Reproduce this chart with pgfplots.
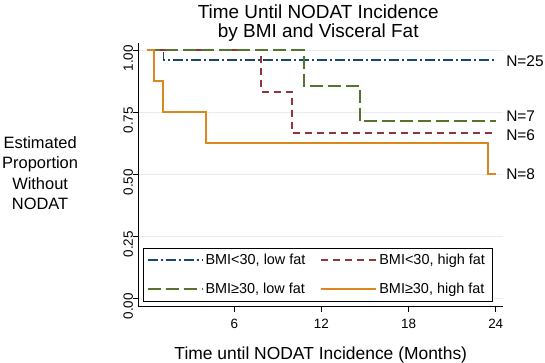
\documentclass[border=0pt]{standalone}
\usepackage{pgfplots}
\pgfplotsset{compat=1.18}
\usepackage{fontspec}
\setmainfont{Liberation Sans}
\definecolor{snavy}{RGB}{26,71,111}
\definecolor{smaroon}{RGB}{144,53,59}
\definecolor{sgreen}{RGB}{85,117,47}
\definecolor{sorange}{RGB}{220,135,30}
\definecolor{sgrid}{RGB}{228,238,240}
\begin{document}
\begin{tikzpicture}
\path[use as bounding box] (0,0) rectangle (545bp,363bp);
\begin{axis}[
  at={(138.3bp,56.3bp)}, anchor=south west,
  scale only axis, width=365bp, height=264bp,
  xmin=-0.61, xmax=24.52, ymin=-0.034, ymax=1.031,
  axis lines=left, axis line style={-, line width=0.9bp, black},
  clip=false,
  xtick={6,12,18,24}, ytick={0,0.25,0.5,0.75,1},
  tick align=outside, major tick length=5bp,
  tick style={black, line width=0.9bp},
  /pgf/number format/assume math mode=true,
  ymajorgrids, grid style={sgrid, line width=0.7bp},
  ticklabel style={font=\fontsize{13.5}{16}\selectfont},
  yticklabel style={rotate=90, anchor=south, inner sep=0pt, xshift=-8bp,
    /pgf/number format/fixed, /pgf/number format/fixed zerofill, /pgf/number format/precision=2},
  xticklabel style={anchor=north, inner sep=0pt, yshift=-7bp},
  title={Time Until NODAT Incidence\\by BMI and Visceral Fat},
  title style={font=\fontsize{19}{19}\selectfont, align=center, inner sep=0pt,
    at={(rel axis cs:0.493,0.983)}, anchor=south},
  xlabel={Time until NODAT Incidence (Months)},
  xlabel style={font=\fontsize{17.5}{20}\selectfont, inner sep=0pt,
    at={(rel axis cs:0.5,-0.199)}, anchor=base},
  ylabel={Estimated\\Proportion\\Without\\NODAT},
  ylabel style={font=\fontsize{16.5}{20.7}\selectfont, rotate=-90, align=center, inner sep=0pt,
    at={(rel axis cs:-0.269,0.506)}, anchor=center},
  legend columns=2,
  legend cell align=left,
  legend image code/.code={\draw[#1] (0bp,0bp) -- (50bp,0bp); \path (0bp,0bp) -- (55bp,0bp);},
  legend style={at={(rel axis cs:0.0137,0.019)}, anchor=south west,
    draw=black, line width=0.9bp, fill=white,
    font=\fontsize{14.5}{16}\selectfont,
    inner xsep=3bp, inner ysep=4bp, row sep=13bp,
    nodes={inner sep=2bp},
    /tikz/every even column/.append style={column sep=4bp}},
]
\addplot[const plot, snavy, line width=1.8bp, dash pattern=on 10bp off 3bp on 2bp off 3bp]
  coordinates {(0,1) (1.12,0.96) (24,0.96)};
\addlegendentry{\makebox[109bp][l]{BMI<30, low fat}}
\addplot[const plot, smaroon, line width=1.8bp, dash pattern=on 7bp off 5bp]
  coordinates {(0,1) (7.86,0.8333) (9.97,0.6667) (24,0.6667)};
\addlegendentry{\makebox[108bp][l]{BMI<30, high fat}}
\addplot[const plot, sgreen, line width=1.8bp, dash pattern=on 13bp off 5bp]
  coordinates {(0,1) (10.8,0.8571) (14.63,0.7143) (24,0.7143)};
\addlegendentry{BMI≥30, low fat}
\addplot[const plot, sorange, line width=1.8bp]
  coordinates {(0,1) (0.47,0.875) (1.11,0.75) (4.05,0.625) (23.45,0.5) (24,0.5)};
\addlegendentry{BMI≥30, high fat}
\node[font=\fontsize{15.5}{17}\selectfont, inner sep=0pt, anchor=west] at (axis cs:24.71,0.956) {N=25};
\node[font=\fontsize{15.5}{17}\selectfont, inner sep=0pt, anchor=west] at (axis cs:24.71,0.734) {N=7};
\node[font=\fontsize{15.5}{17}\selectfont, inner sep=0pt, anchor=west] at (axis cs:24.71,0.657) {N=6};
\node[font=\fontsize{15.5}{17}\selectfont, inner sep=0pt, anchor=west] at (axis cs:24.71,0.499) {N=8};
\end{axis}
\end{tikzpicture}
\end{document}
